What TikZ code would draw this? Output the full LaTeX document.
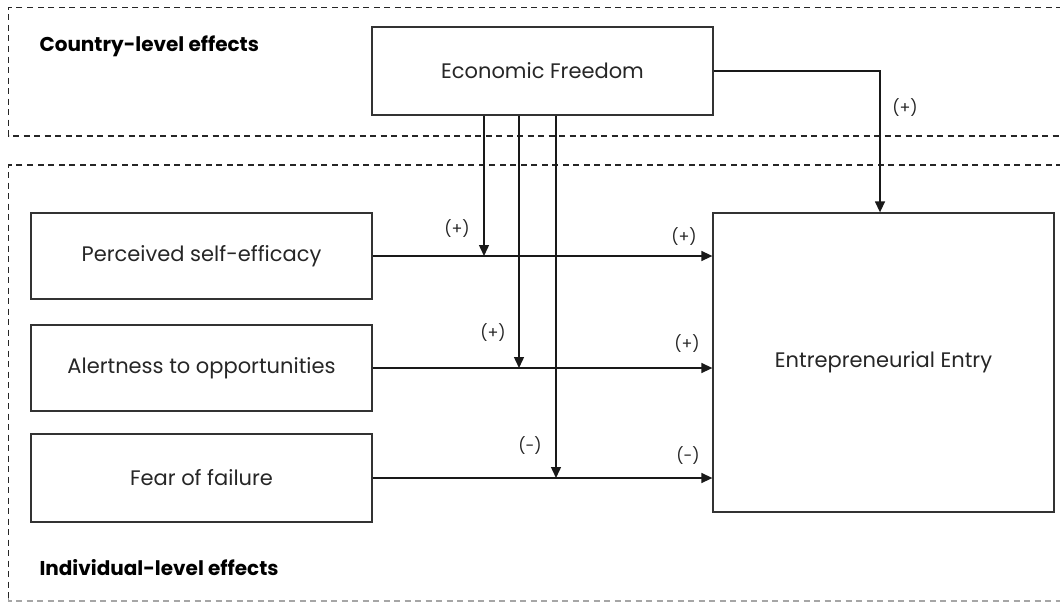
\documentclass[tikz,border=0pt]{standalone}
\usepackage{fontspec}
\setmainfont{Poppins}
\usetikzlibrary{arrows.meta}
\begin{document}
\begin{tikzpicture}[x=1pt,y=-1pt,
  box/.style={draw=black!80,line width=1.3pt,minimum width=341pt,inner sep=0pt,font=\fontsize{21}{24}\selectfont\color{black!85}},
  zone/.style={draw=black!85,line width=1.2pt,dash pattern=on 6pt off 4.5pt},
  arr/.style={draw=black!90,line width=1.4pt,-{Triangle[length=11pt,width=10pt]}},
  sign/.style={font=\fontsize{16}{18}\selectfont\color{black!85}},
  head/.style={font=\bfseries\fontsize{20}{23}\selectfont,anchor=west}]
\useasboundingbox (0,0) rectangle (1060,602);
% zones
\draw[zone] (1062,7.5) -- (8.5,7.5) -- (8.5,136) -- (1062,136);
\draw[zone,draw=black!35] (8.5,598) -- (8.5,601) -- (1062,601);
\draw[zone] (1062,165) -- (8.5,165) -- (8.5,598);
\node[head] (cl) at (36,46) {Country-level effects};
\node[head] (il) at (36,568) {Individual-level effects};
% boxes
\node[box,minimum height=88pt] (ef) at (542.5,71) {Economic Freedom};
\node[box,minimum height=86pt] (pse) at (201.5,256) {Perceived self-efficacy};
\node[box,minimum height=86pt] (al) at (201.5,368) {Alertness to opportunities};
\node[box,minimum height=88pt] (ff) at (201.5,478) {Fear of failure};
\node[box,minimum width=341pt,minimum height=299pt] (er) at (883.5,362.5) {Entrepreneurial Entry};
% connectors
\coordinate (top) at ([xshift=-3.5pt]er.north);
\draw[arr] (ef.east) -| (top);
\draw[arr] (pse.east) -- (pse.east -| er.west);
\draw[arr] (al.east) -- (al.east -| er.west);
\draw[arr] (ff.east) -- (ff.east -| er.west);
\coordinate (m1) at ([xshift=-58.5pt]ef.south);
\coordinate (m2) at ([xshift=-23.5pt]ef.south);
\coordinate (m3) at ([xshift=13.5pt]ef.south);
\draw[arr] (m1) -- (m1 |- pse.east);
\draw[arr] (m2) -- (m2 |- al.east);
\draw[arr] (m3) -- (m3 |- ff.east);
% signs
\node[sign] (s0) at (905,108) {(+)};
\node[sign] (s1) at (457,229) {(+)};
\node[sign] (s2) at (493,333) {(+)};
\node[sign] (s3) at (530,446) {(-)};
\node[sign] (s4) at (684,237) {(+)};
\node[sign] (s5) at (687,344) {(+)};
\node[sign] (s6) at (688,456) {(-)};
\end{tikzpicture}
\end{document}
